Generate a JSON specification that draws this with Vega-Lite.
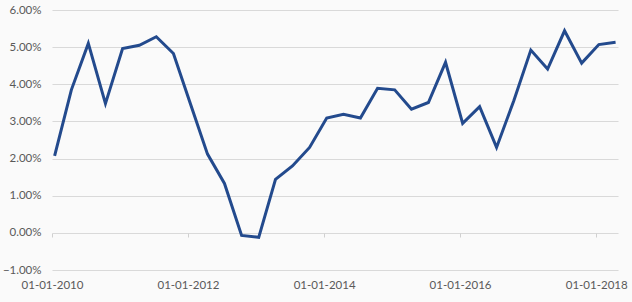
{
  "$schema": "https://vega.github.io/schema/vega-lite/v6.json",
  "width": 566,
  "height": 260,
  "autosize": {"type": "none"},
  "padding": {"left": 52, "top": 10, "right": 14, "bottom": 32},
  "background": "#fafafa",
  "config": {
    "view": {"stroke": null},
    "axis": {"labelFont": "Lato", "labelFontSize": 11.5, "labelColor": "#595959"}
  },
  "data": {
    "values": [
      {"date": "2010-01-15", "value": 0.0207},
      {"date": "2010-04-15", "value": 0.0385},
      {"date": "2010-07-15", "value": 0.0510},
      {"date": "2010-10-15", "value": 0.0348},
      {"date": "2011-01-15", "value": 0.0496},
      {"date": "2011-04-15", "value": 0.0505},
      {"date": "2011-07-15", "value": 0.0528},
      {"date": "2011-10-15", "value": 0.0483},
      {"date": "2012-01-15", "value": 0.0346},
      {"date": "2012-04-15", "value": 0.0212},
      {"date": "2012-07-15", "value": 0.0133},
      {"date": "2012-10-15", "value": -0.0007},
      {"date": "2013-01-15", "value": -0.0012},
      {"date": "2013-04-15", "value": 0.0144},
      {"date": "2013-07-15", "value": 0.0180},
      {"date": "2013-10-15", "value": 0.0230},
      {"date": "2014-01-15", "value": 0.0309},
      {"date": "2014-04-15", "value": 0.0319},
      {"date": "2014-07-15", "value": 0.0309},
      {"date": "2014-10-15", "value": 0.0389},
      {"date": "2015-01-15", "value": 0.0385},
      {"date": "2015-04-15", "value": 0.0333},
      {"date": "2015-07-15", "value": 0.0351},
      {"date": "2015-10-15", "value": 0.0459},
      {"date": "2016-01-15", "value": 0.0295},
      {"date": "2016-04-15", "value": 0.0340},
      {"date": "2016-07-15", "value": 0.0230},
      {"date": "2016-10-15", "value": 0.0355},
      {"date": "2017-01-15", "value": 0.0492},
      {"date": "2017-04-15", "value": 0.0441},
      {"date": "2017-07-15", "value": 0.0544},
      {"date": "2017-10-15", "value": 0.0457},
      {"date": "2018-01-15", "value": 0.0507},
      {"date": "2018-04-15", "value": 0.0513}
    ]
  },
  "encoding": {
    "y": {
      "field": "value", "type": "quantitative",
      "scale": {"domain": [-0.01, 0.06], "nice": false},
      "axis": {
        "title": null, "format": ".2%", "values": [-0.01, 0, 0.01, 0.02, 0.03, 0.04, 0.05, 0.06],
        "domain": false, "ticks": false, "labelPadding": 11, "labelOverlap": false, "labelFlush": false,
        "gridColor": "#d9d9d9", "gridWidth": 1
      }
    }
  },
  "layer": [
    {
      "mark": {"type": "line", "color": "#234a8d", "strokeWidth": 3, "strokeJoin": "miter"},
      "encoding": {
        "x": {
          "field": "date", "type": "temporal",
          "scale": {"type": "utc", "domain": [{"year": 2010, "month": 1, "date": 1, "utc": true}, {"year": 2018, "month": 4, "date": 28, "utc": true}]},
          "axis": {
            "title": null, "grid": false, "domain": false, "ticks": false,
            "values": [{"year": 2010, "month": 1, "date": 1, "utc": true}, {"year": 2012, "month": 1, "date": 1, "utc": true}, {"year": 2014, "month": 1, "date": 1, "utc": true}, {"year": 2016, "month": 1, "date": 1, "utc": true}, {"year": 2018, "month": 1, "date": 1, "utc": true}],
            "format": "%d-%m-%Y", "labelPadding": 9, "labelFlush": false, "labelOverlap": false
          }
        }
      }
    },
    {
      "mark": {"type": "line", "opacity": 0},
      "encoding": {
        "x": {
          "field": "date", "type": "temporal",
          "axis": {
            "orient": "bottom", "offset": -37, "title": null, "grid": false, "labels": false, "domain": false,
            "ticks": true, "tickSize": 4, "tickColor": "#d0d0d0",
            "values": [{"year": 2010, "month": 1, "date": 1, "utc": true}, {"year": 2012, "month": 1, "date": 1, "utc": true}, {"year": 2014, "month": 1, "date": 1, "utc": true}, {"year": 2016, "month": 1, "date": 1, "utc": true}, {"year": 2018, "month": 1, "date": 1, "utc": true}]
          }
        }
      }
    }
  ],
  "resolve": {"axis": {"x": "independent", "y": "shared"}}
}
